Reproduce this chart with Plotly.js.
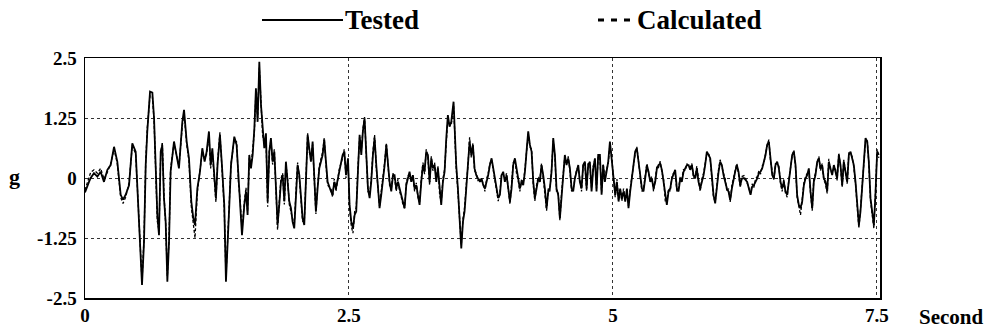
<!DOCTYPE html>
<html>
<head>
<meta charset="utf-8">
<script src="https://cdn.plot.ly/plotly-3.0.1.min.js"></script>
<style>html,body{margin:0;padding:0;background:#fff;}#chart{width:991px;height:331px;}</style>
</head>
<body>
<div id="chart"></div>
<script>
// Time (s) of the points
const timeSec = [
0.000,0.022,0.038,0.054,0.085,0.117,0.148,0.180,0.212,0.243,0.275,0.306,0.338,0.360,0.385,0.417,0.448,0.480,0.505,0.527,
0.540,0.559,0.575,0.590,0.616,0.638,0.654,0.669,0.685,0.701,0.717,0.732,0.748,0.764,0.780,0.796,0.811,0.843,0.868,0.890,
0.922,0.938,0.963,0.985,1.007,1.026,1.042,1.064,1.089,1.111,1.133,1.152,1.174,1.190,1.206,1.228,
1.240,1.256,1.278,1.297,1.319,1.335,1.351,1.367,1.383,1.414,1.436,1.455,1.468,1.487,1.509,1.525,1.540,1.556,1.572,1.588,
1.604,1.619,1.635,1.651,1.667,1.682,1.698,1.714,1.730,1.746,1.761,1.777,1.793,1.809,1.824,1.840,1.856,1.872,1.888,1.903,
1.919,1.935,1.951,1.966,1.982,1.998,2.014,2.030,2.045,2.061,2.077,2.093,2.109,2.124,2.140,2.156,2.172,2.187,2.203,2.219,
2.251,2.266,2.282,2.298,2.330,2.345,2.361,2.377,2.408,2.440,2.456,2.472,
2.491,2.506,2.522,2.538,2.554,2.569,2.585,2.601,2.617,2.632,2.648,2.664,2.680,2.696,2.711,2.727,2.743,2.759,2.775,2.790,
2.806,2.822,2.838,2.854,2.869,2.885,2.901,2.917,2.932,2.948,2.964,2.980,2.996,3.011,3.027,3.043,3.059,3.074,3.090,3.106,
3.122,3.138,3.153,3.169,3.185,3.201,3.216,3.232,3.248,3.264,3.280,3.295,3.311,3.327,3.343,3.359,3.374,3.390,3.406,3.422,
3.437,3.453,3.469,3.491,3.501,3.516,3.532,3.548,3.564,3.580,3.595,3.611,3.627,3.643,3.659,3.674,3.690,3.706,3.722,
3.741,3.756,3.772,3.788,3.804,3.819,3.835,3.851,3.867,3.883,3.898,3.914,3.930,3.946,3.961,3.977,3.993,4.009,4.025,4.040,
4.056,4.072,4.088,4.103,4.119,4.135,4.151,4.167,4.182,4.198,4.214,4.230,4.246,4.261,4.277,4.293,4.309,4.324,4.340,4.356,
4.372,4.388,4.403,4.419,4.435,4.451,4.466,4.482,4.498,4.514,4.530,4.545,4.561,4.577,4.593,4.609,4.624,4.640,4.656,4.672,
4.687,4.703,4.719,4.735,4.751,4.766,4.782,4.798,4.814,4.830,4.845,4.861,4.877,4.893,4.908,4.924,4.940,4.956,4.972,
4.991,5.006,5.022,5.038,5.054,5.069,5.085,5.101,5.117,5.133,5.148,5.164,5.180,5.196,5.211,5.227,5.243,5.259,5.275,5.290,
5.306,5.322,5.338,5.354,5.369,5.385,5.401,5.417,5.432,5.448,5.464,5.480,5.496,5.511,5.527,5.543,5.559,5.574,5.590,5.606,
5.622,5.638,5.653,5.669,5.685,5.701,5.717,5.732,5.748,5.764,5.780,5.795,5.811,5.827,5.843,5.859,5.874,5.890,5.906,5.922,
5.937,5.953,5.969,5.985,6.001,6.016,6.032,6.048,6.064,6.080,6.095,6.111,6.127,6.143,6.158,6.174,6.190,6.206,6.222,
6.241,6.256,6.272,6.288,6.304,6.319,6.335,6.351,6.367,6.383,6.398,6.414,6.430,6.446,6.461,6.477,6.493,6.509,6.525,6.540,
6.556,6.572,6.588,6.603,6.619,6.635,6.651,6.667,6.682,6.698,6.714,6.730,6.745,6.761,6.777,6.793,6.809,6.824,6.840,6.856,
6.872,6.888,6.903,6.919,6.935,6.951,6.966,6.982,6.998,7.014,7.030,7.045,7.061,7.077,7.093,7.109,7.124,7.140,7.156,7.172,
7.187,7.203,7.219,7.235,7.251,7.266,7.282,7.298,7.314,7.330,7.345,7.361,7.377,7.393,7.409,7.424,7.440,7.456,7.472,7.487,
7.503,7.519
];

// Tested acceleration (g)
const tested = [
-0.30,-0.15,-0.08,0.00,0.10,0.03,0.13,-0.08,0.17,0.27,0.65,0.34,-0.35,-0.45,-0.35,-0.15,0.72,0.55,-0.55,-1.74,
-2.23,-1.33,0.27,0.97,1.80,1.78,1.25,0.27,-0.77,-1.19,0.55,0.68,-0.42,-0.91,-2.16,-1.33,0.13,0.76,0.48,0.20,
1.17,1.42,0.76,0.41,-0.49,-0.84,-0.98,-0.22,0.13,0.62,0.34,0.55,0.97,0.27,0.62,-0.08,
-0.42,0.30,0.90,0.27,-0.56,-2.16,-1.46,-0.56,0.27,0.86,0.69,-0.08,-0.35,-1.19,-0.56,-0.28,-0.77,0.48,0.20,0.48,
1.03,1.87,1.17,2.42,1.52,0.97,0.62,0.93,-0.49,0.55,0.83,0.34,0.55,-0.22,-0.98,-0.56,-0.08,0.06,-0.49,0.34,
-0.08,-0.49,-0.63,-0.91,-1.05,-0.35,0.27,0.06,-0.35,-0.84,-0.98,-0.08,0.90,0.62,0.34,0.76,-0.08,-0.70,-0.22,0.20,
0.48,0.80,0.34,-0.08,-0.28,-0.35,-0.08,-0.22,0.13,0.48,0.55,0.06,
0.41,-0.56,-0.91,-1.05,-0.77,-0.70,0.13,0.90,0.48,0.97,1.24,0.48,-0.22,-0.42,-0.08,0.48,0.83,0.27,-0.22,-0.63,
-0.35,-0.08,0.27,0.69,0.27,-0.08,-0.28,0.06,0.06,-0.22,-0.08,-0.22,-0.35,-0.49,-0.63,-0.15,-0.01,0.13,-0.08,0.06,
-0.22,-0.15,-0.35,-0.56,-0.08,0.27,0.13,0.55,0.48,-0.08,0.41,0.20,0.27,-0.08,0.20,-0.28,-0.56,-0.08,0.13,0.83,
1.31,1.07,1.17,1.59,1.03,0.27,-0.22,-0.84,-1.47,-0.91,-0.70,-0.22,0.20,0.76,0.48,0.69,0.20,0.06,-0.01,
-0.08,-0.01,-0.15,-0.22,-0.08,0.06,0.27,0.41,0.20,-0.01,-0.22,-0.42,-0.35,0.06,0.13,-0.08,0.06,-0.22,-0.49,-0.22,
0.27,0.41,0.13,-0.01,-0.22,-0.08,-0.15,0.13,0.55,0.97,0.69,0.55,-0.08,-0.42,-0.22,-0.01,-0.08,0.27,0.06,-0.22,
-0.63,-0.28,-0.22,0.13,0.83,0.48,-0.22,-0.35,-0.84,-0.35,-0.01,0.48,0.27,0.41,0.20,-0.22,-0.28,-0.01,0.13,0.27,
-0.08,-0.22,0.27,0.34,-0.22,0.27,0.34,-0.28,0.20,0.41,-0.28,0.48,0.48,-0.35,0.27,-0.08,0.13,0.34,0.76,
0.34,-0.08,-0.35,-0.08,-0.49,-0.22,-0.42,-0.28,-0.49,-0.22,-0.63,-0.28,-0.01,0.27,0.55,0.62,0.34,-0.01,-0.22,-0.28,
0.06,0.27,0.13,-0.08,-0.01,-0.22,-0.08,0.20,0.27,0.30,0.17,-0.08,-0.42,-0.56,-0.28,-0.22,-0.01,0.06,0.17,-0.22,
-0.28,-0.01,-0.08,0.13,0.20,0.27,0.27,0.17,0.27,0.06,-0.01,0.20,-0.08,-0.22,-0.08,0.06,0.27,0.55,0.48,0.41,
0.06,-0.35,-0.53,-0.15,0.13,0.34,0.27,0.06,-0.08,-0.22,-0.28,-0.46,-0.22,-0.01,0.13,0.27,0.13,-0.15,-0.01,
0.00,-0.04,-0.08,-0.22,-0.35,-0.18,-0.15,-0.08,-0.01,0.10,0.13,0.20,0.34,0.48,0.69,0.76,0.41,0.06,-0.01,0.27,
0.34,0.20,-0.08,-0.22,-0.08,-0.28,-0.35,-0.08,0.20,0.48,0.55,0.27,-0.35,-0.56,-0.63,-0.49,-0.15,-0.01,0.06,0.20,
-0.28,-0.63,-0.08,0.06,0.34,0.41,0.20,0.27,-0.01,-0.08,-0.28,0.34,0.20,0.06,0.27,0.13,-0.01,0.48,0.27,-0.15,
0.34,0.13,-0.08,0.48,0.55,0.41,0.27,-0.08,-0.49,-0.98,-0.70,-0.22,0.34,0.83,0.76,0.34,-0.42,-0.77,-0.98,-0.35,
0.55,0.48
];

// Calculated acceleration (g)
const calculated = [
-0.25,-0.10,0.05,0.12,0.17,0.10,0.20,-0.02,0.12,0.30,0.60,0.30,-0.40,-0.53,-0.40,-0.10,0.68,0.50,-0.60,-1.80,
-2.15,-1.25,0.35,1.05,1.72,1.70,1.20,0.20,-0.90,-1.10,0.50,0.75,-0.35,-0.95,-2.05,-1.25,0.20,0.72,0.45,0.25,
1.10,1.35,0.70,0.35,-0.60,-1.00,-1.25,-0.30,0.20,0.55,0.40,0.50,0.90,0.20,0.55,-0.15,
-0.50,0.35,0.95,0.20,-0.65,-2.05,-1.40,-0.50,0.30,0.80,0.75,-0.15,-0.40,-1.10,-0.50,-0.20,-0.70,0.42,0.25,0.55,
0.95,1.80,1.25,2.30,1.45,0.90,0.70,0.85,-0.60,0.60,0.78,0.28,0.60,-0.30,-1.08,-0.50,-0.02,0.10,-0.55,0.28,
-0.02,-0.55,-0.70,-0.85,-1.00,-0.28,0.32,0.00,-0.40,-0.90,-0.92,0.00,0.93,0.55,0.40,0.70,-0.15,-0.75,-0.15,0.25,
0.55,0.83,0.28,-0.15,-0.22,-0.40,-0.02,-0.28,0.18,0.42,0.60,0.00,
0.35,-0.62,-1.00,-1.15,-0.70,-0.62,0.20,0.85,0.55,1.02,1.27,0.42,-0.28,-0.35,-0.02,0.55,0.90,0.20,-0.28,-0.58,
-0.28,-0.02,0.32,0.73,0.20,-0.15,-0.22,0.10,0.00,-0.28,-0.02,-0.28,-0.40,-0.55,-0.63,-0.10,0.05,0.08,-0.02,0.00,
-0.28,-0.10,-0.40,-0.50,-0.02,0.32,0.08,0.60,0.42,-0.15,0.45,0.15,0.32,-0.02,0.25,-0.35,-0.50,-0.02,0.18,0.78,
1.25,1.12,1.10,1.52,0.95,0.20,-0.28,-0.90,-1.40,-0.85,-0.62,-0.15,0.25,0.85,0.42,0.72,0.15,0.10,-0.05,
-0.02,-0.05,-0.10,-0.28,-0.02,0.10,0.30,0.38,0.15,-0.05,-0.28,-0.48,-0.30,0.10,0.08,-0.02,0.10,-0.28,-0.55,-0.15,
0.32,0.38,0.08,-0.05,-0.28,-0.02,-0.10,0.18,0.60,0.92,0.65,0.60,-0.15,-0.48,-0.15,0.03,-0.02,0.30,0.00,-0.28,
-0.68,-0.22,-0.28,0.18,0.78,0.42,-0.28,-0.30,-0.88,-0.30,0.03,0.45,0.30,0.45,0.15,-0.28,-0.22,0.03,0.18,0.22,
-0.02,-0.28,0.30,0.30,-0.28,0.30,0.30,-0.22,0.25,0.38,-0.22,0.45,0.42,-0.30,0.30,-0.02,0.18,0.30,0.70,
0.38,-0.02,-0.40,-0.02,-0.45,-0.28,-0.48,-0.22,-0.45,-0.28,-0.58,-0.22,0.03,0.30,0.50,0.65,0.30,-0.05,-0.28,-0.22,
0.10,0.30,0.08,-0.02,0.03,-0.28,-0.02,0.25,0.22,0.35,0.12,-0.02,-0.48,-0.52,-0.22,-0.28,0.03,0.10,0.12,-0.28,
-0.22,0.03,-0.02,0.18,0.15,0.30,0.22,0.22,0.30,0.00,0.03,0.25,-0.02,-0.28,-0.02,0.10,0.30,0.52,0.52,0.38,
0.00,-0.40,-0.50,-0.10,0.18,0.38,0.22,0.10,-0.02,-0.28,-0.22,-0.50,-0.15,0.03,0.18,0.30,0.08,-0.20,0.03,
0.05,0.00,-0.12,-0.25,-0.32,-0.12,-0.20,-0.02,0.03,0.15,0.08,0.25,0.30,0.52,0.65,0.80,0.35,0.10,-0.05,0.30,
0.30,0.25,-0.12,-0.28,-0.02,-0.32,-0.40,-0.02,0.25,0.45,0.58,0.22,-0.40,-0.60,-0.77,-0.45,-0.10,0.03,0.10,0.15,
-0.32,-0.68,-0.02,0.10,0.30,0.45,0.15,0.30,-0.05,-0.12,-0.32,0.40,0.15,0.10,0.22,0.18,-0.05,0.52,0.22,-0.20,
0.38,0.08,-0.12,0.52,0.50,0.45,0.22,-0.12,-0.55,-1.05,-0.65,-0.18,0.38,0.78,0.80,0.30,-0.48,-0.82,-1.05,-0.30,
0.60,0.42
];

const xTickVals = [0, 2.5, 5, 7.5];
const xTickText = ["0", "2.5", "5", "7.5"];
const yTickVals = [-2.5, -1.25, 0, 1.25, 2.5];
const yTickText = ["-2.5", "-1.25", "0", "1.25", "2.5"];
const seriesNames = ["Tested", "Calculated"];

// pixel -> paper helpers (plot area 85..880 x 58..298)
const L = 85, R = 880, T = 58, B = 298;
const px = x => (x - L) / (R - L);
const py = y => (B - y) / (B - T);

const FONT = "Liberation Serif";

const traces = [
  {x: timeSec, y: calculated, name: seriesNames[1], type: "scatter", mode: "lines",
   line: {color: "#000", width: 1.3, dash: "3px,2px"}, showlegend: false},
  {x: timeSec, y: tested, name: seriesNames[0], type: "scatter", mode: "lines",
   line: {color: "#000", width: 1.8}, showlegend: false}
];

const legY = 20;
const shapes = [
  {type: "line", xref: "paper", yref: "paper", x0: px(262), x1: px(343), y0: py(legY), y1: py(legY),
   line: {color: "#000", width: 2}},
  {type: "line", xref: "paper", yref: "paper", x0: px(598), x1: px(632), y0: py(legY), y1: py(legY),
   line: {color: "#000", width: 3, dash: "6px,7px"}}
];

const annotations = [
  {text: "<b>" + seriesNames[0] + "</b>", xref: "paper", yref: "paper", x: px(343), y: py(legY),
   xanchor: "left", yanchor: "middle", showarrow: false, font: {family: FONT, size: 27, color: "#000"}},
  {text: "<b>" + seriesNames[1] + "</b>", xref: "paper", yref: "paper", x: px(635), y: py(legY),
   xanchor: "left", yanchor: "middle", showarrow: false, font: {family: FONT, size: 27, color: "#000"}},
  {text: "<b>g</b>", xref: "paper", yref: "paper", x: px(14), y: py(176),
   xanchor: "center", yanchor: "middle", showarrow: false, font: {family: FONT, size: 22, color: "#000"}},
  {text: "<b>Second</b>", xref: "paper", yref: "paper", x: px(917), y: py(317),
   xanchor: "left", yanchor: "middle", showarrow: false, font: {family: FONT, size: 21, color: "#000"}}
];

const layout = {
  width: 991, height: 331,
  margin: {l: L, r: 991 - R, t: T, b: 331 - B, pad: 0},
  paper_bgcolor: "#fff", plot_bgcolor: "#fff",
  showlegend: false,
  font: {family: FONT, color: "#000"},
  xaxis: {
    range: [0, 7.53], tickmode: "array", tickvals: xTickVals, ticktext: xTickText,
    showgrid: true, gridcolor: "#333", griddash: "dot", gridwidth: 1,
    zeroline: false, showline: true, mirror: true, linecolor: "#000", linewidth: 1.5,
    ticks: "", tickfont: {family: FONT, size: 19, color: "#000", weight: "bold"}
  },
  yaxis: {
    range: [-2.5, 2.5], tickmode: "array", tickvals: yTickVals, ticktext: yTickText,
    showgrid: true, gridcolor: "#333", griddash: "dot", gridwidth: 1,
    zeroline: false, showline: true, mirror: true, linecolor: "#000", linewidth: 1.5,
    ticks: "", ticklabelstandoff: 3, tickfont: {family: FONT, size: 19, color: "#000", weight: "bold"}
  },
  shapes: shapes,
  annotations: annotations
};

Plotly.newPlot("chart", traces, layout, {displayModeBar: false, staticPlot: true});
</script>
</body>
</html>
